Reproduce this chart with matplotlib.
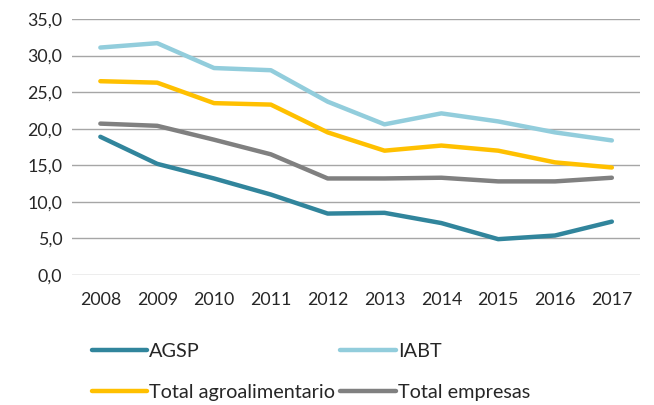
import matplotlib
matplotlib.use("Agg")
import matplotlib.pyplot as plt

plt.rcParams['font.family'] = ['Lato', 'DejaVu Sans']

years = ['2008', '2009', '2010', '2011', '2012', '2013', '2014', '2015', '2016', '2017']
agsp = [18.9, 15.2, 13.2, 11.0, 8.4, 8.5, 7.1, 4.9, 5.4, 7.3]
iabt = [31.1, 31.7, 28.3, 28.0, 23.7, 20.6, 22.1, 21.0, 19.5, 18.4]
total_agro = [26.5, 26.3, 23.5, 23.3, 19.5, 17.0, 17.7, 17.0, 15.4, 14.7]
total_emp = [20.7, 20.4, 18.5, 16.5, 13.2, 13.2, 13.3, 12.8, 12.8, 13.3]
yticks = [0, 5, 10, 15, 20, 25, 30, 35]
ytick_labels = ['0,0', '5,0', '10,0', '15,0', '20,0', '25,0', '30,0', '35,0']

fs = 12.8
lfs = 14.3
fig = plt.figure(figsize=(6.54, 4.05), dpi=100)
ax = fig.add_axes([0.11, 0.321, 0.869, 0.632])

x = list(range(len(years)))
l1, = ax.plot(x, agsp, color='#31859C', lw=3.2, label='AGSP', solid_capstyle='round')
l2, = ax.plot(x, iabt, color='#92CDDC', lw=3.2, label='IABT', solid_capstyle='round')
l3, = ax.plot(x, total_agro, color='#FFC000', lw=3.2, label='Total agroalimentario', solid_capstyle='round')
l4, = ax.plot(x, total_emp, color='#808080', lw=3.2, label='Total empresas', solid_capstyle='round')

ax.set_xlim(-0.5, 9.5)
ax.set_ylim(0, 35)
ax.set_xticks(x)
ax.set_xticklabels(years)
ax.set_yticks(yticks)
ax.set_yticklabels(ytick_labels)
ax.tick_params(axis='both', length=0, labelsize=fs, colors='#262626')
ax.tick_params(axis='x', pad=12)
ax.tick_params(axis='y', pad=7)
ax.grid(axis='y', color='#A6A6A6', lw=1)
ax.set_axisbelow(True)
for s in ax.spines.values():
    s.set_visible(False)

leg = fig.legend(handles=[l1, l3, l2, l4], ncol=2, loc='upper left',
                 bbox_to_anchor=(0.128, 0.172), frameon=False, fontsize=lfs,
                 handlelength=2.8, handletextpad=0.1, columnspacing=0.25,
                 labelspacing=1.19, borderaxespad=0)
for t in leg.get_texts():
    t.set_color('#262626')

fig.savefig('out.png', dpi=100)
